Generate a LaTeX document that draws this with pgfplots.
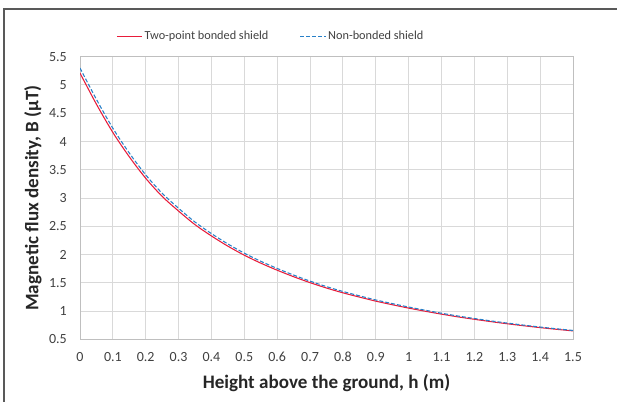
\documentclass[border=0pt]{standalone}
\usepackage{pgfplots}
\pgfplotsset{compat=1.18}
\usepackage{fontspec}
\setmainfont{Carlito}
\definecolor{redline}{RGB}{232,28,58}
\definecolor{blueline}{RGB}{40,128,200}
\definecolor{gridc}{RGB}{217,217,217}
\definecolor{axisc}{RGB}{191,191,191}
\definecolor{txt}{RGB}{64,64,64}
\definecolor{lab}{RGB}{38,38,38}
\definecolor{framec}{RGB}{89,89,89}
\begin{document}
\begin{tikzpicture}
\useasboundingbox (0,0) rectangle (462.75pt,301.5pt);
\draw[framec, line width=0.8pt] (3pt,0) -- (3pt,294.75pt) -- (462.75pt,294.75pt);
\begin{axis}[
  at={(60pt,46.875pt)}, anchor=south west,
  scale only axis, width=369.75pt, height=212.1pt,
  xmin=0, xmax=1.5, ymin=0.5, ymax=5.5,
  xtick={0,0.1,...,1.5}, ytick={0.5,1,...,5.5},
  xticklabels={0,0.1,0.2,0.3,0.4,0.5,0.6,0.7,0.8,0.9,1,1.1,1.2,1.3,1.4,1.5},
  yticklabels={0.5,1,1.5,2,2.5,3,3.5,4,4.5,5,5.5},
  grid=major, major grid style={gridc, line width=0.75pt},
  axis line style={axisc, line width=0.75pt},
  major tick length=0pt,
  tick label style={font=\fontsize{10.5}{12}\selectfont, text=txt},
  /pgf/number format/assume math mode=true,
  yticklabel style={anchor=east, inner sep=0pt, xshift=-9.75pt},
  xticklabel style={anchor=base, inner sep=0pt, yshift=-16.5pt},
  xlabel={Height above the ground, h (m)},
  ylabel={Magnetic flux density, B (µT)},
  label style={font=\fontsize{14.3}{16}\selectfont\bfseries, text=lab},
  xlabel style={at={(axis description cs:0.5,-0.153)}, anchor=center, inner sep=0pt},
  ylabel style={at={(axis description cs:-0.0953,0.5)}, anchor=center, inner sep=0pt},
  legend columns=2,
  legend style={at={(axis description cs:0.387,1.0707)}, anchor=center, draw=none, fill=none,
    font=\fontsize{9.2}{11}\selectfont, text=txt, /tikz/every even column/.append style={column sep=22pt},
    inner sep=0pt, nodes={inner sep=1.5pt}},
  legend image code/.code={\draw[#1] (0pt,0pt) -- (19pt,0pt);},
]
\addplot[redline, line width=0.8pt, smooth] coordinates {
(0,5.21) (0.05,4.66) (0.1,4.16) (0.15,3.73) (0.2,3.35) (0.25,3.03) (0.3,2.77) (0.35,2.53)
(0.4,2.33) (0.45,2.15) (0.5,1.99) (0.55,1.85) (0.6,1.725) (0.65,1.61) (0.7,1.505) (0.75,1.41)
(0.8,1.325) (0.85,1.25) (0.9,1.178) (0.95,1.115) (1.0,1.055) (1.05,1.0) (1.1,0.948) (1.15,0.9)
(1.2,0.857) (1.25,0.816) (1.3,0.778) (1.35,0.743) (1.4,0.71) (1.45,0.68) (1.5,0.652)};
\addlegendentry{Two-point bonded shield}
\addplot[blueline, line width=0.8pt, dash pattern=on 3pt off 1.5pt, smooth] coordinates {
(0,5.30) (0.05,4.745) (0.1,4.235) (0.15,3.797) (0.2,3.41) (0.25,3.085) (0.3,2.82) (0.35,2.576)
(0.4,2.372) (0.45,2.189) (0.5,2.026) (0.55,1.883) (0.6,1.756) (0.65,1.639) (0.7,1.532) (0.75,1.435)
(0.8,1.349) (0.85,1.272) (0.9,1.199) (0.95,1.135) (1.0,1.074) (1.05,1.018) (1.1,0.964) (1.15,0.915)
(1.2,0.871) (1.25,0.829) (1.3,0.79) (1.35,0.754) (1.4,0.72) (1.45,0.689) (1.5,0.66)};
\addlegendentry{Non-bonded shield}
\end{axis}
\end{tikzpicture}
\end{document}
